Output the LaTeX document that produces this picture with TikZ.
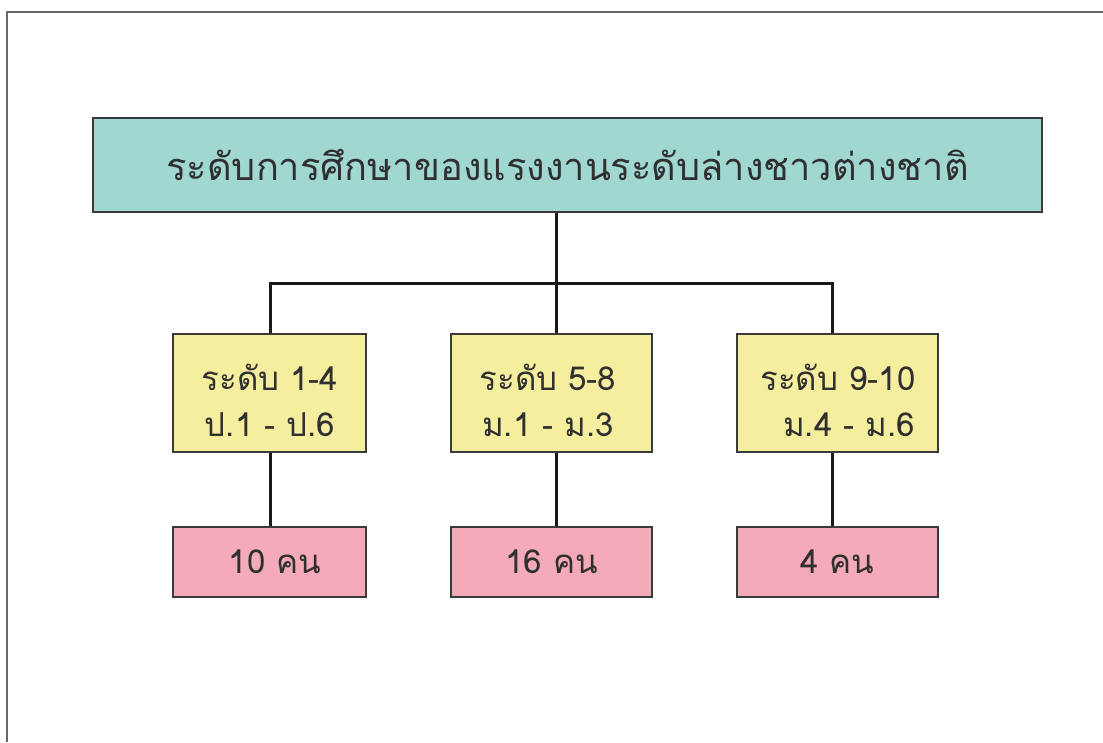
\documentclass[tikz,border=0pt]{standalone}
\usepackage{fontspec}
\newfontfamily\thaifont[Script=Thai]{Loma}
\definecolor{teal1}{HTML}{A0D8D1}
\definecolor{yel1}{HTML}{F5EE9E}
\definecolor{pink1}{HTML}{F4AAB8}
\definecolor{txt}{HTML}{303030}
\definecolor{bord}{HTML}{3A3A3A}
\begin{document}
\begin{tikzpicture}[x=1pt,y=-1pt,
  box/.style={draw=bord,line width=2.3pt,inner sep=0pt,text=txt,font=\thaifont},
  conn/.style={draw=black!90,line width=3pt}]
\useasboundingbox (0,0) rectangle (1103,742);
\fill[white] (0,0) rectangle (1103,742);
\draw[line width=2.2pt,draw=black!60] (7,742) -- (7,12) -- (1103,12);
\node[box,fill=teal1,minimum width=949pt,minimum height=94pt,font=\thaifont\fontsize{38}{44}\selectfont] (top) at (567.5,165) {ระดับการศึกษาของแรงงานระดับล่างชาวต่างชาติ};
\tikzset{ybox/.style={box,fill=yel1,minimum width=193pt,minimum height=118pt,align=center,font=\thaifont\fontsize{33}{46}\selectfont},
  ylab/.style={inner sep=0pt,text=txt,align=center,font=\thaifont\fontsize{33}{46}\selectfont},
  pbox/.style={box,fill=pink1,minimum width=193pt,minimum height=70pt,font=\thaifont\fontsize{33}{38}\selectfont}}
\node[ybox] (y1) at (269.5,393) {};
\node[ybox,minimum width=201pt] (y2) at (551.5,393) {};
\node[ybox,minimum width=201pt] (y3) at (837.5,393) {};
\node[ylab] (t1) at (270,400) {ระดับ 1-4\\ป.1 - ป.6};
\node[ylab] (t2) at (548,400) {ระดับ 5-8\\ม.1 - ม.3};
\node[ylab] (t3) at (838,400) {ระดับ 9-10\\\ \ ม.4 - ม.6};
\node[pbox] (p1) at (269.5,562) {\ 10 คน};
\node[pbox,minimum width=201pt] (p2) at (551.5,562) {16 คน};
\node[pbox,minimum width=201pt] (p3) at (837.5,562) {4 คน};
\coordinate (c1) at (270,283);
\coordinate (c2) at (556,283);
\coordinate (c3) at (832,283);
\draw[conn] (c2 |- top.south) -- (c2);
\draw[conn] (c1 |- y1.north) -- (c1) -- (c3) -- (c3 |- y3.north);
\draw[conn] (c2) -- (c2 |- y2.north);
\draw[conn] (c1 |- y1.south) -- (c1 |- p1.north);
\draw[conn] (c2 |- y2.south) -- (c2 |- p2.north);
\draw[conn] (c3 |- y3.south) -- (c3 |- p3.north);
\end{tikzpicture}
\end{document}
